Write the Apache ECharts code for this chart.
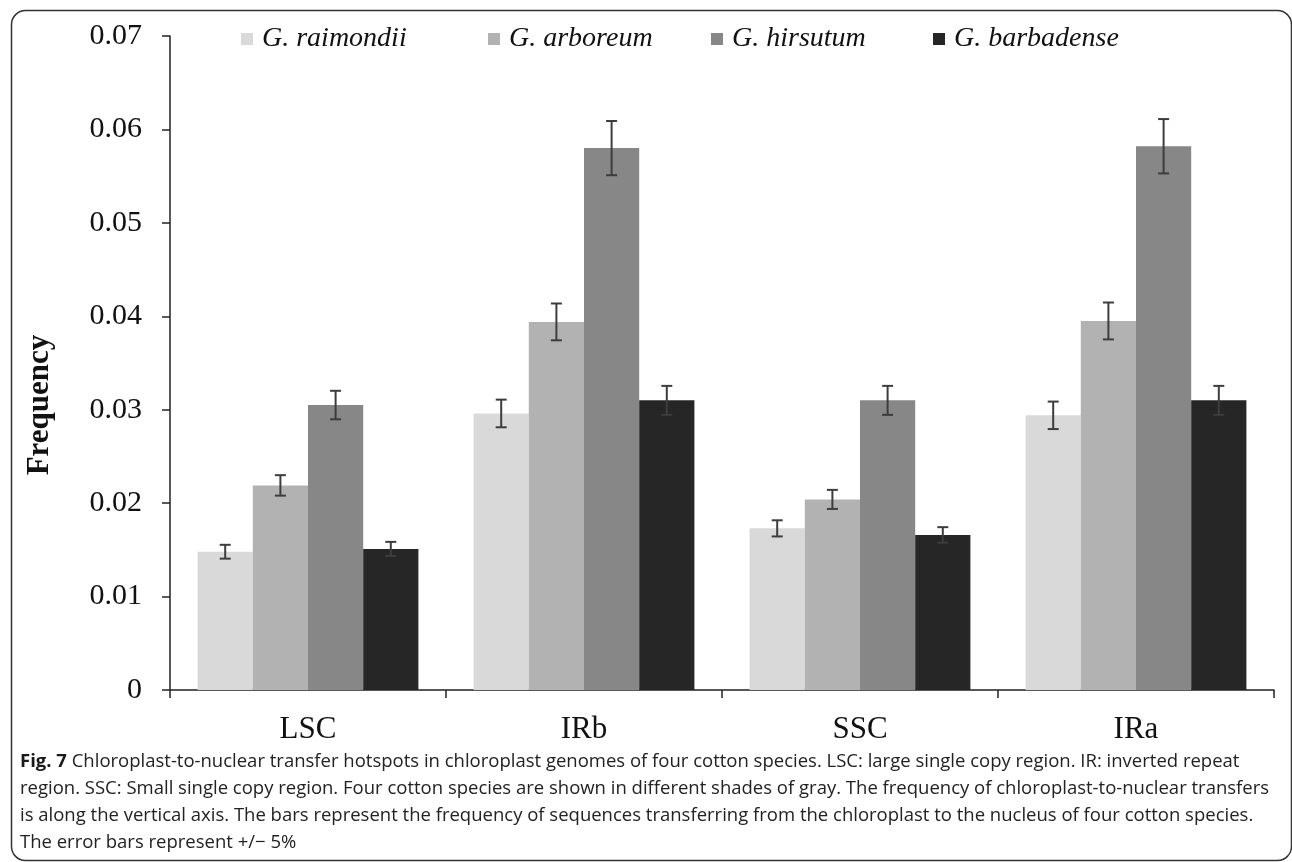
<!DOCTYPE html>
<html>
<head>
<meta charset="utf-8">
<script src="https://cdn.jsdelivr.net/npm/echarts@6/dist/echarts.min.js"></script>
<style>
  html, body { margin: 0; padding: 0; background: #fff; }
  #chart { width: 1292px; height: 862px; }
</style>
</head>
<body>
<div id="chart"></div>
<script>
// Chloroplast genome regions
const regions = ['LSC', 'IRb', 'SSC', 'IRa'];

// Species names (legend)
const speciesNames = ['G. raimondii', 'G. arboreum', 'G. hirsutum', 'G. barbadense'];

// Transfer frequency per region, one array per species
const raimondii  = [0.0148, 0.0296, 0.0173, 0.0294];
const arboreum   = [0.0219, 0.0394, 0.0204, 0.0395];
const hirsutum   = [0.0305, 0.0580, 0.0310, 0.0582];
const barbadense = [0.0151, 0.0310, 0.0166, 0.0310];

// Relative error shown by the error bars (+/- 5%)
const errorFraction = 0.05;

// Y axis tick values
const yTicks = [0, 0.01, 0.02, 0.03, 0.04, 0.05, 0.06, 0.07];

const seriesValues = [raimondii, arboreum, hirsutum, barbadense];
const shades = ['#d9d9d9', '#b2b2b2', '#878787', '#262626'];
const legendLeft = [236, 483, 706, 928];

const serifFont = '"Liberation Serif", "DejaVu Serif", serif';
const sansFont = '"Open Sans", "Noto Sans", sans-serif';
const barCategoryGap = 0.2;

// Error bar items: [regionIndex, seriesIndex, low, high]
const errorData = [];
seriesValues.forEach((vals, s) => {
  vals.forEach((v, c) => {
    errorData.push([c, s, v * (1 - errorFraction), v * (1 + errorFraction)]);
  });
});

function renderErrorBar(params, api) {
  const c = api.value(0);
  const s = api.value(1);
  const band = api.size([1, 0])[0];
  const barW = band * (1 - barCategoryGap) / seriesValues.length;
  const center = api.coord([c, 0])[0];
  const x = center + (s - (seriesValues.length - 1) / 2) * barW;
  const lo = api.coord([c, api.value(2)])[1];
  const hi = api.coord([c, api.value(3)])[1];
  const cap = 5.5;
  const style = { stroke: '#3d3d3d', lineWidth: 2 };
  return {
    type: 'group',
    children: [
      { type: 'line', shape: { x1: x, y1: lo, x2: x, y2: hi }, style },
      { type: 'line', shape: { x1: x - cap, y1: lo, x2: x + cap, y2: lo }, style },
      { type: 'line', shape: { x1: x - cap, y1: hi, x2: x + cap, y2: hi }, style }
    ]
  };
}

const chart = echarts.init(document.getElementById('chart'), null, { renderer: 'canvas' });

// One legend block per species so each entry sits at its own position
const legends = speciesNames.map((name, i) => ({
  data: [name],
  left: legendLeft[i],
  top: 20,
  itemWidth: 12,
  itemHeight: 12,
  icon: 'rect',
  textStyle: {
    fontFamily: serifFont,
    fontStyle: 'italic',
    fontSize: 28,
    color: '#111',
    padding: [0, 0, 0, 4]
  }
}));

const option = {
  backgroundColor: '#ffffff',
  animation: false,
  legend: legends,
  grid: {
    left: 170,
    right: 18,
    top: 36,
    bottom: 172,
    containLabel: false
  },
  xAxis: {
    type: 'category',
    data: regions,
    axisLine: { lineStyle: { color: '#222', width: 1.5 } },
    axisTick: { show: true, alignWithLabel: false, length: 8, inside: false, lineStyle: { color: '#222', width: 1.5 } },
    axisLabel: {
      fontFamily: serifFont,
      fontSize: 31,
      color: '#111',
      margin: 24
    }
  },
  yAxis: {
    type: 'value',
    min: 0,
    max: 0.07,
    interval: 0.01,
    axisLine: { show: true, lineStyle: { color: '#222', width: 1.5 } },
    axisTick: { show: true, length: 8, inside: false, lineStyle: { color: '#222', width: 1.5 } },
    splitLine: { show: false },
    axisLabel: {
      fontFamily: serifFont,
      fontSize: 30,
      color: '#111',
      margin: 28,
      formatter: (v) => {
        const t = yTicks.find(k => Math.abs(k - v) < 1e-9);
        return t === 0 ? '0' : (t !== undefined ? t.toFixed(2) : '');
      }
    }
  },
  series: [
    ...seriesValues.map((vals, i) => ({
      name: speciesNames[i],
      type: 'bar',
      data: vals,
      barGap: '0%',
      barCategoryGap: (barCategoryGap * 100) + '%',
      itemStyle: { color: shades[i] },
      z: 2
    })),
    {
      type: 'custom',
      name: 'error',
      renderItem: renderErrorBar,
      data: errorData,
      encode: { x: 0, y: [2, 3] },
      z: 5,
      silent: true
    }
  ],
  graphic: [
    {
      type: 'rect',
      left: 9,
      top: 8,
      shape: { width: 1280, height: 850, r: 14 },
      style: { fill: 'none', stroke: '#333', lineWidth: 1.5 },
      silent: true
    },
    {
      // Y axis title
      type: 'text',
      x: 40,
      y: 405,
      rotation: Math.PI / 2,
      style: {
        text: 'Frequency',
        fontFamily: serifFont,
        fontWeight: 'bold',
        fontSize: 31,
        fill: '#111',
        align: 'center',
        verticalAlign: 'middle'
      }
    },
    {
      type: 'text',
      left: 20,
      top: 748,
      style: {
        text: '{b|Fig. 7} Chloroplast-to-nuclear transfer hotspots in chloroplast genomes of four cotton species. LSC: large single copy region. IR: inverted repeat\n' +
              'region. SSC: Small single copy region. Four cotton species are shown in different shades of gray. The frequency of chloroplast-to-nuclear transfers\n' +
              'is along the vertical axis. The bars represent the frequency of sequences transferring from the chloroplast to the nucleus of four cotton species.\n' +
              'The error bars represent +/\u2212 5%',
        fontFamily: sansFont,
        fontSize: 18.5,
        lineHeight: 27,
        fill: '#222',
        rich: {
          b: {
            fontFamily: sansFont,
            fontWeight: 'bold',
            fontSize: 18.5,
            lineHeight: 27,
            fill: '#1a1a1a'
          }
        }
      }
    }
  ]
};

chart.setOption(option);
</script>
</body>
</html>
